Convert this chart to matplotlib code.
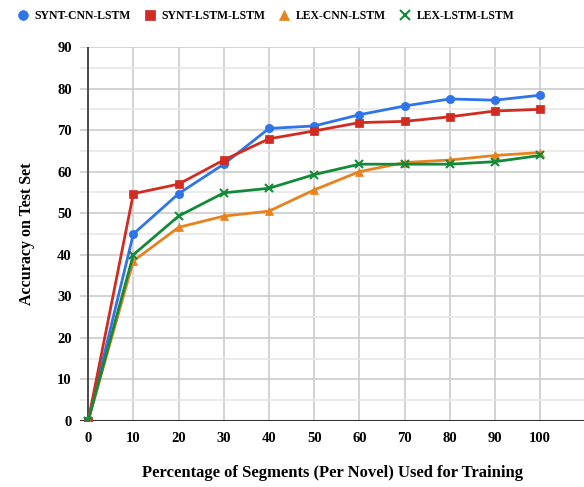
import matplotlib
matplotlib.use("Agg")
import matplotlib.pyplot as plt
from matplotlib.ticker import MultipleLocator

x = [0, 10, 20, 30, 40, 50, 60, 70, 80, 90, 100]
synt_cnn = [0, 45.0, 54.7, 61.8, 70.4, 71.0, 73.7, 75.8, 77.5, 77.2, 78.4]
synt_lstm = [0, 54.7, 57.0, 62.8, 67.9, 69.8, 71.8, 72.1, 73.2, 74.6, 75.0]
lex_cnn = [0, 38.5, 46.6, 49.3, 50.5, 55.6, 60.0, 62.2, 62.8, 63.9, 64.6]
lex_lstm = [0, 40.0, 49.3, 54.9, 56.0, 59.3, 61.8, 61.8, 61.8, 62.4, 63.9]
labels = ["SYNT-CNN-LSTM", "SYNT-LSTM-LSTM", "LEX-CNN-LSTM", "LEX-LSTM-LSTM"]

plt.rcParams['font.family'] = ['Liberation Serif', 'DejaVu Serif']
plt.rcParams['font.weight'] = 'bold'

fig = plt.figure(figsize=(5.84, 4.87), dpi=100)
W, H = 584, 487
ax = fig.add_axes([80 / W, 1 - 421 / H, (584 - 80) / W, (421 - 47) / H])

series = [synt_cnn, synt_lstm, lex_cnn, lex_lstm]
colors = ["#2f74e8", "#d12b22", "#e8821e", "#138a39"]
markers = ["o", "s", "^", "x"]
for y, c, m, lab in zip(series, colors, markers, labels):
    ax.plot(x, y, color=c, marker=m, markersize=6, linewidth=2, label=lab,
            markeredgewidth=1.5 if m == "x" else 0.5, zorder=3)

ax.set_xlim(-1.8, 109.7)
ax.set_ylim(0, 90)
ax.yaxis.set_major_locator(MultipleLocator(10))
ax.yaxis.set_minor_locator(MultipleLocator(5))
ax.set_xticks(x)
ax.grid(True, which='major', color='#cccccc', linewidth=1.2)
ax.grid(True, which='minor', axis='y', color='#e8e8e8', linewidth=1.2)
for s in ax.spines.values():
    s.set_visible(False)
ax.axvline(0, color='#333333', linewidth=1.2, zorder=2)
ax.axhline(0, color='#333333', linewidth=1.5, zorder=2)
ax.tick_params(which='both', length=0, labelsize=10.5, pad=8)
ax.tick_params(axis='y', pad=6)
for t in ax.get_xticklabels() + ax.get_yticklabels():
    t.set_fontweight('bold')

ax.set_xlabel("Percentage of Segments (Per Novel) Used for Training",
              fontsize=12, fontweight='bold', labelpad=14)
ax.set_ylabel("Accuracy on Test Set", fontsize=11.5, fontweight='bold', labelpad=16)

handles, labs = ax.get_legend_handles_labels()
leg = fig.legend(handles, labs, loc='center', bbox_to_anchor=(0.457, 1 - 16 / H),
                 ncol=4, frameon=False, fontsize=8.5, handlelength=0.6,
                 columnspacing=1.3, handletextpad=0.7)
for h in leg.legend_handles:
    h.set_linestyle('none')
    h.set_markersize(7)

fig.savefig("out.png", dpi=100)
